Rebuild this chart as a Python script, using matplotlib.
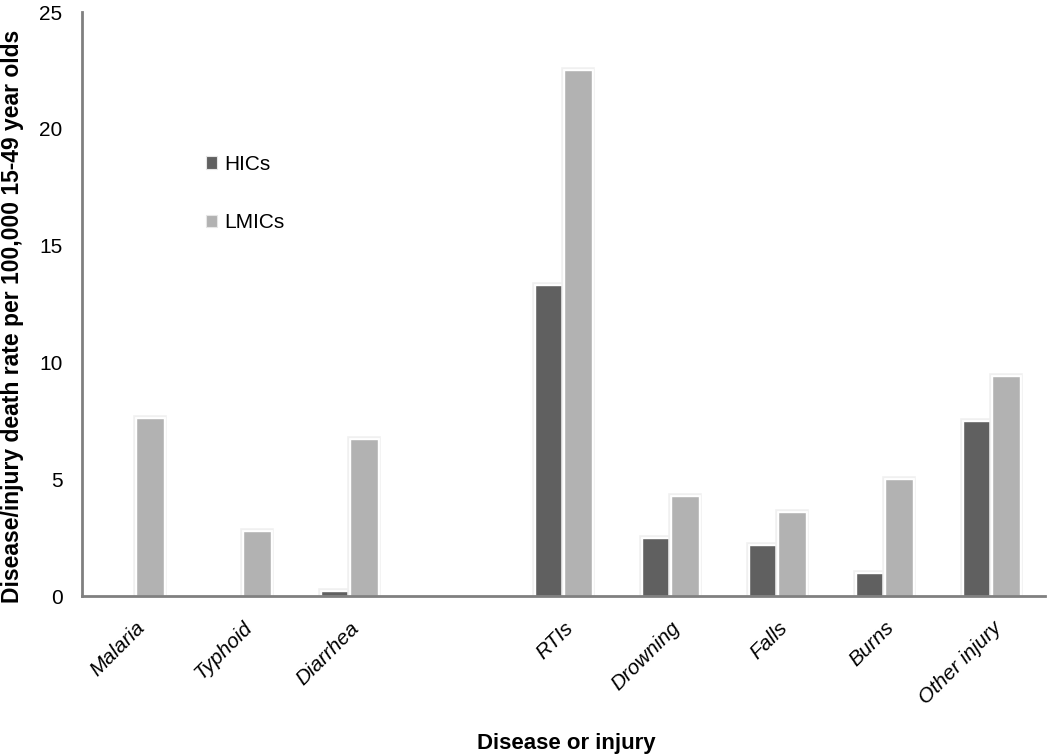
import matplotlib
matplotlib.use("Agg")
import matplotlib.pyplot as plt
import matplotlib.patheffects as pe
from matplotlib.patches import Patch
import numpy as np

categories = ["Malaria", "Typhoid", "Diarrhea", "", "RTIs", "Drowning", "Falls", "Burns", "Other injury"]
hics = [0.0, 0.0, 0.2, 0.0, 13.3, 2.5, 2.2, 1.0, 7.5]
lmics = [7.6, 2.8, 6.7, 0.0, 22.5, 4.3, 3.6, 5.0, 9.4]
series_names = ["HICs", "LMICs"]
colors = ["#606060", "#b2b2b2"]
yticks = [0, 5, 10, 15, 20, 25]

font = "Liberation Sans"

fig = plt.figure(figsize=(10.5, 7.56), dpi=100)
ax = fig.add_axes([82/1050, 1-596/756, 963/1050, (596-12)/756])

x = np.arange(len(categories))
w = 0.27
fx = [pe.Stroke(linewidth=4, foreground="#f0f0f0"), pe.Stroke(linewidth=2, foreground="white"), pe.Normal()]
b1 = ax.bar(x - w/2, hics, w, color=colors[0], edgecolor="white", linewidth=1.0)
b2 = ax.bar(x + w/2, lmics, w, color=colors[1], edgecolor="white", linewidth=1.0)
for b in list(b1) + list(b2):
    if b.get_height() > 0:
        b.set_path_effects(fx)
    else:
        b.set_visible(False)

ax.set_xlim(-0.5, len(categories) - 0.5)
ax.set_ylim(0, 25)
ax.set_yticks(yticks)
ax.set_yticklabels([str(t) for t in yticks], fontfamily=font, fontsize=15)
ax.tick_params(axis="y", length=0, pad=14)
ax.set_xticks(x)
ax.set_xticklabels(categories, rotation=45, ha="right", rotation_mode="anchor",
                   fontfamily=font, fontstyle="italic", fontsize=15)
ax.tick_params(axis="x", length=0, pad=16)

for s in ["top", "right"]:
    ax.spines[s].set_visible(False)
for s in ["left", "bottom"]:
    ax.spines[s].set_color("#808080")
    ax.spines[s].set_linewidth(2)
ax.set_axisbelow(False)

ax.set_ylabel("Disease/injury death rate per 100,000 15-49 year olds",
              fontfamily=font, fontweight="bold", fontsize=16.5)
ax.yaxis.set_label_coords(-58/963, 0.478)
ax.set_xlabel("Disease or injury", fontfamily=font, fontweight="bold", fontsize=16)
ax.xaxis.set_label_coords(0.503, -(733-596)/584)

handles = [Patch(facecolor=c, edgecolor="#e6e6e6", linewidth=0.8) for c in colors]
leg = ax.legend(handles=handles, labels=series_names, frameon=False,
                loc="upper left", bbox_to_anchor=((187-82)/963, 1-(136-12)/584),
                handlelength=0.55, handleheight=0.55, handletextpad=0.35,
                labelspacing=1.9, prop={"family": font, "size": 15})

fig.savefig("out.png", dpi=100)
